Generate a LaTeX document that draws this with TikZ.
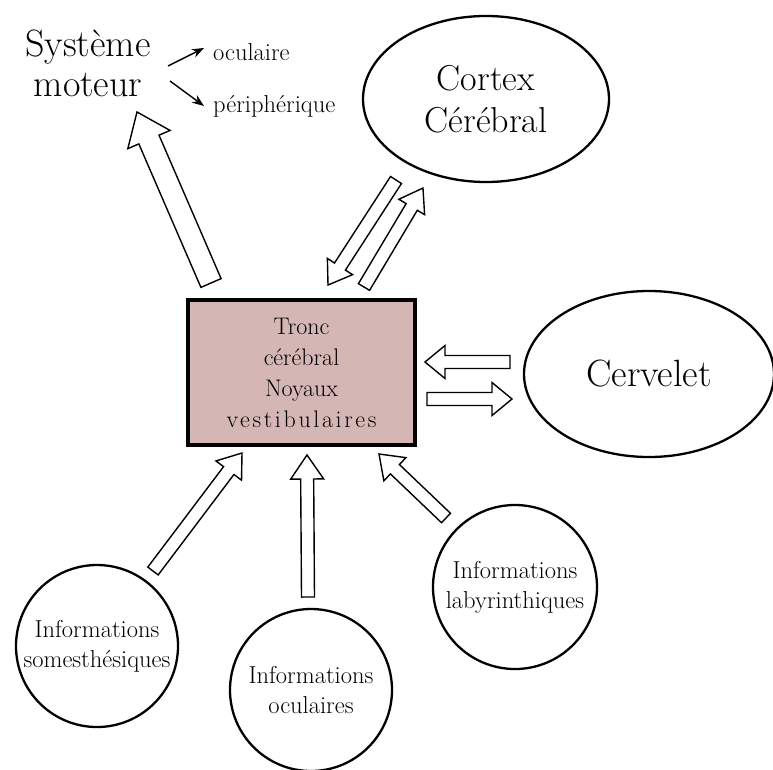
\documentclass[tikz,border=0pt]{standalone}
\usepackage{fontspec}
\setmainfont{Latin Modern Roman}
\usepackage{xcolor}
\usepackage{tikz}
\usetikzlibrary{shapes,arrows.meta,calc}

\definecolor{troncfill}{RGB}{212,182,180}

\tikzset{
  shaftw/.store in=\shaftw, shaftw=6.5,
  headw/.store in=\headw, headw=16,
  headl/.store in=\headl, headl=22,
  hollow/.style={draw=black, fill=white, line width=1.4pt, line join=miter,
    to path={let \p1=(\tikztostart), \p2=(\tikztotarget),
      \n1={atan2(\y2-\y1,\x2-\x1)}, \n2={veclen(\x2-\x1,\y2-\y1)} in
      ([shift={(\p1)},rotate=\n1]0pt,\shaftw pt)
      -- ([shift={(\p1)},rotate=\n1]\n2-\headl pt,\shaftw pt)
      -- ([shift={(\p1)},rotate=\n1]\n2-\headl pt,\headw pt)
      -- ([shift={(\p1)},rotate=\n1]\n2,0pt)
      -- ([shift={(\p1)},rotate=\n1]\n2-\headl pt,-\headw pt)
      -- ([shift={(\p1)},rotate=\n1]\n2-\headl pt,-\shaftw pt)
      -- ([shift={(\p1)},rotate=\n1]0pt,-\shaftw pt) -- cycle}}
}

\begin{document}
\begin{tikzpicture}[x=1pt, y=-1pt,
  bigtxt/.style={font=\fontsize{38}{40}\selectfont, align=center},
  sub/.style={font=\fontsize{24.5}{26}\selectfont, inner sep=0pt, anchor=west},
  oval/.style={ellipse, draw=black, line width=2.3pt, inner sep=0pt, minimum width=246pt, minimum height=166pt, align=center, font=\fontsize{36}{42}\selectfont},
  info/.style={circle, draw=black, line width=2.3pt, inner sep=0pt, minimum size=162pt, align=center, font=\fontsize{24.5}{30}\selectfont},
  tronc/.style={rectangle, draw=black, line width=3.5pt, fill=troncfill, minimum width=227pt, minimum height=145pt, align=center, font=\fontsize{24}{31}\selectfont},
  smallarrow/.style={-{Stealth[length=12pt,width=9pt]}, line width=1.4pt}
]
  \path[use as bounding box, fill=white] (0,0) rectangle (773,769);

  \node[bigtxt] (moteur) at (88,63) {Système\\moteur};
  \node[sub] (oculaire) at (213,52) {oculaire};
  \node[sub] (periph) at (213,106) {périphérique};
  \node[oval] (cortex) at (486,99) {Cortex\\Cérébral};
  \node[tronc] (tronc) at (301.5,372.5) {Tronc\\cérébral\\Noyaux\\{\addfontfeature{LetterSpace=11}vestibulaires}};
  \node[oval, minimum width=250pt, font=\fontsize{38}{42}\selectfont] (cervelet) at (649,374) {Cervelet};
  \node[info] (somest) at (97,646) {Informations\\somesthésiques};
  \node[info] (ocul) at (311,690) {Informations\\oculaires};
  \node[info, minimum size=164pt] (labyr) at (515,587) {Informations\\labyrinthiques};

  \coordinate (mot-a) at (168,66);
  \coordinate (mot-b) at (204,48);
  \coordinate (mot-c) at (170,81);
  \coordinate (mot-d) at (204,106);
  \draw[smallarrow] (mot-a) -- (mot-b);
  \draw[smallarrow] (mot-c) -- (mot-d);

  \coordinate (tr-mot) at (211,283);
  \coordinate (mot-in) at (137,112);
  \coordinate (cx-out) at (396,180);
  \coordinate (cx-tr) at (328,285);
  \coordinate (tr-cx) at (364,287);
  \coordinate (cx-in) at (423,188);
  \coordinate (cv-out) at (510,362);
  \coordinate (cv-tr) at (425,362);
  \coordinate (tr-cv) at (427,399);
  \coordinate (cv-in) at (512,399);
  \coordinate (so-out) at (153,571);
  \coordinate (so-tr) at (242,453);
  \coordinate (oc-out) at (308,597);
  \coordinate (oc-tr) at (307,455);
  \coordinate (la-out) at (446,518);
  \coordinate (la-tr) at (379,454);

  \draw[hollow, shaftw=11, headw=23, headl=30] (tr-mot) to (mot-in);
  \draw[hollow, headw=15] (cx-out) to (cx-tr);
  \draw[hollow, headw=15] (tr-cx) to (cx-in);
  \draw[hollow, headw=16.5, headl=20] (cv-out) to (cv-tr);
  \draw[hollow, headw=16.5, headl=20] (tr-cv) to (cv-in);
  \draw[hollow] (so-out) to (so-tr);
  \draw[hollow, headw=16.5, headl=24] (oc-out) to (oc-tr);
  \draw[hollow] (la-out) to (la-tr);
\end{tikzpicture}
\end{document}
